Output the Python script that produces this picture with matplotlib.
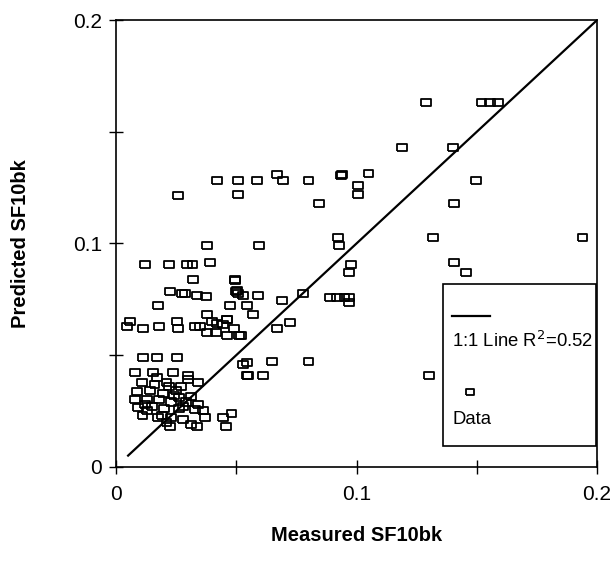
import matplotlib.pyplot as plt
from matplotlib.patches import Rectangle
from matplotlib.lines import Line2D

plt.rcParams['font.family'] = ['Liberation Sans', 'DejaVu Sans']

# measured vs predicted SF10bk
measured = [
    0.129, 0.152, 0.1555, 0.159, 0.119, 0.140, 0.094, 0.105, 0.1006, 0.1006,
    0.1497, 0.1405, 0.0923, 0.0927, 0.1318, 0.194, 0.0977, 0.0969, 0.1405, 0.1455,
    0.089, 0.092, 0.095, 0.097, 0.097,
    0.042, 0.0507, 0.0586, 0.067, 0.0694, 0.080, 0.0936, 0.0507, 0.0844, 0.0258,
    0.0595, 0.0378, 0.0495, 0.0503, 0.0507, 0.0528, 0.059, 0.0474, 0.0545, 0.069,
    0.0778, 0.057, 0.046,
    0.012, 0.022, 0.0295, 0.0318, 0.039, 0.032, 0.0495,
    0.0225, 0.0274, 0.0287, 0.0337, 0.0374, 0.050, 0.0175,
    0.0058, 0.0046, 0.0112, 0.0179, 0.0254, 0.0258, 0.0328, 0.035, 0.0378, 0.040,
    0.0445, 0.046, 0.0378, 0.0416, 0.046, 0.049, 0.051, 0.042,
    0.0724, 0.067, 0.052, 0.065, 0.080, 0.055, 0.061, 0.130,
    0.0112, 0.017, 0.0254, 0.008, 0.0154, 0.0237, 0.030, 0.030, 0.034, 0.0108,
    0.021, 0.0087, 0.014, 0.0195, 0.025, 0.031, 0.008, 0.0129, 0.018, 0.023,
    0.029, 0.0091, 0.015, 0.020, 0.026, 0.0328, 0.011, 0.0175, 0.023, 0.0225,
    0.028, 0.037, 0.031, 0.0337, 0.0445, 0.048, 0.0457, 0.0528, 0.0545, 0.027,
    0.022, 0.016, 0.012, 0.019, 0.024, 0.028, 0.013, 0.021, 0.026, 0.017,
    0.034, 0.036, 0.0545,
]
predicted = [
    0.163, 0.163, 0.163, 0.163, 0.143, 0.143, 0.131, 0.1315, 0.126, 0.122,
    0.1284, 0.118, 0.1025, 0.0993, 0.1025, 0.1025, 0.0908, 0.0868, 0.0913, 0.0868,
    0.076, 0.076, 0.076, 0.076, 0.0734,
    0.128, 0.128, 0.128, 0.131, 0.128, 0.1284, 0.1306, 0.122, 0.1177, 0.1217,
    0.0993, 0.0989, 0.0832, 0.079, 0.0778, 0.0765, 0.0765, 0.072, 0.072, 0.0743,
    0.0778, 0.068, 0.066,
    0.0904, 0.0904, 0.0908, 0.0908, 0.0913, 0.0837, 0.0837,
    0.0783, 0.0778, 0.0778, 0.0765, 0.0761, 0.0783, 0.072,
    0.065, 0.063, 0.062, 0.063, 0.065, 0.062, 0.063, 0.063, 0.068, 0.065,
    0.0635, 0.0658, 0.060, 0.060, 0.059, 0.062, 0.0586, 0.064,
    0.0644, 0.062, 0.0586, 0.047, 0.047, 0.041, 0.041, 0.041,
    0.049, 0.049, 0.049, 0.042, 0.042, 0.042, 0.041, 0.039, 0.0376, 0.0376,
    0.0376, 0.0336, 0.034, 0.033, 0.034, 0.0313, 0.030, 0.030, 0.030, 0.029,
    0.029, 0.0264, 0.027, 0.026, 0.026, 0.0255, 0.023, 0.022, 0.022, 0.018,
    0.021, 0.022, 0.019, 0.018, 0.022, 0.0237, 0.018, 0.046, 0.041, 0.036,
    0.036, 0.037, 0.028, 0.023, 0.032, 0.027, 0.025, 0.020, 0.031, 0.040,
    0.028, 0.025, 0.0466,
]

line_x = [0.005, 0.2]
line_label = '1:1 Line R$^2$=0.52'

# rectangular open marker, a bit wider than tall
box = [(-1.4, -1), (1.4, -1), (1.4, 1), (-1.4, 1), (-1.4, -1)]

fig = plt.figure(figsize=(6.11, 5.61), dpi=100)
ax = fig.add_axes([0.19, 0.168, 0.787, 0.796])

ax.plot(line_x, line_x, color='black', lw=1.6)
ax.scatter(measured, predicted, marker=box, s=50, facecolors='none',
           edgecolors='black', linewidths=1.3, zorder=3)

ax.set_xlim(0, 0.2)
ax.set_ylim(0, 0.2)
ax.set_xticks([0, 0.1, 0.2])
ax.set_xticklabels(['0', '0.1', '0.2'])
ax.set_yticks([0, 0.1, 0.2])
ax.set_yticklabels(['0', '0.1', '0.2'])
ax.set_xticks([0.05, 0.15], minor=True)
ax.set_yticks([0.05, 0.15], minor=True)
ax.tick_params(which='both', direction='inout', length=10, width=1, labelsize=15)
ax.tick_params(axis='x', which='major', pad=8)
ax.tick_params(axis='y', which='major', pad=5)
for s in ax.spines.values():
    s.set_linewidth(1.2)

ax.set_xlabel('Measured SF10bk', fontsize=14.5, fontweight='bold', labelpad=16)
ax.set_ylabel('Predicted SF10bk', fontsize=14.5, fontweight='bold', labelpad=31)

# legend box drawn by hand: handle above its text
ax.add_patch(Rectangle((0.680, 0.047), 0.318, 0.362, transform=ax.transAxes,
                       facecolor='white', edgecolor='black', lw=1.2, zorder=4))
ax.add_line(Line2D([0.699, 0.778], [0.338, 0.338], transform=ax.transAxes,
                   color='black', lw=1.6, zorder=5))
ax.text(0.699, 0.282, line_label, transform=ax.transAxes, fontsize=13.3,
        va='center', ha='left', zorder=5)
ax.scatter([0.736], [0.168], marker=box, s=35, facecolors='none',
           edgecolors='black', linewidths=1.3, transform=ax.transAxes, zorder=5)
ax.text(0.699, 0.105, 'Data', transform=ax.transAxes, fontsize=13.3,
        va='center', ha='left', zorder=5)

fig.savefig('out.png', dpi=100)
